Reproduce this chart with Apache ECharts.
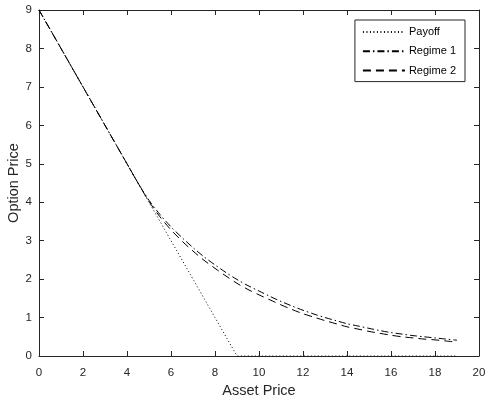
<!DOCTYPE html>
<html>
<head>
<meta charset="utf-8">
<script src="https://cdn.jsdelivr.net/npm/echarts@6/dist/echarts.min.js"></script>
<style>
  html, body { margin: 0; padding: 0; background: #fff; }
  #chart { width: 486px; height: 403px; }
</style>
</head>
<body>
<div id="chart"></div>
<script>
// Asset price grid
var assetPrice = [0, 0.5, 1, 1.5, 2, 2.5, 3, 3.5, 4, 4.5, 5, 5.5, 6, 6.5, 7, 7.5, 8, 8.5, 9, 9.5,
  10, 10.5, 11, 11.5, 12, 12.5, 13, 13.5, 14, 14.5, 15, 15.5, 16, 16.5, 17, 17.5, 18, 18.5, 19];

// Exercise payoff of the put (strike 9)
var payoff = [9, 8.5, 8, 7.5, 7, 6.5, 6, 5.5, 5, 4.5, 4, 3.5, 3, 2.5, 2, 1.5, 1, 0.5, 0, 0,
  0, 0, 0, 0, 0, 0, 0, 0, 0, 0, 0, 0, 0, 0, 0, 0, 0, 0, 0];

// Option value in regime 1
var regime1 = [9, 8.5, 8, 7.5, 7, 6.5, 6, 5.5, 5, 4.5, 4.05, 3.68, 3.36, 3.08, 2.82, 2.58, 2.37, 2.17, 1.99, 1.83,
  1.69, 1.55, 1.42, 1.30, 1.19, 1.09, 1.00, 0.92, 0.84, 0.78, 0.72, 0.66, 0.61, 0.57, 0.53, 0.50, 0.47, 0.44, 0.41];

// Option value in regime 2
var regime2 = [9, 8.5, 8, 7.5, 7, 6.5, 6, 5.5, 5, 4.5, 4.02, 3.62, 3.28, 2.99, 2.73, 2.49, 2.28, 2.08, 1.89, 1.73,
  1.59, 1.46, 1.33, 1.21, 1.10, 1.01, 0.92, 0.84, 0.76, 0.70, 0.64, 0.59, 0.54, 0.50, 0.47, 0.44, 0.42, 0.39, 0.36];

var xTicks = { min: 0, max: 20, interval: 2 };
var yTicks = { min: 0, max: 9, interval: 1 };

function pairs(xs, ys) {
  return xs.map(function (x, i) { return [x, ys[i]]; });
}

var ink = '#262626';
var font = 'Liberation Sans, Arial, Helvetica, sans-serif';

var chart = echarts.init(document.getElementById('chart'), null, { renderer: 'canvas' });

function axisCommon(extra) {
  var base = {
    type: 'value',
    splitLine: { show: false },
    axisLine: { show: true, onZero: false, lineStyle: { color: ink, width: 1 } },
    axisTick: { show: true, inside: true, length: 5, lineStyle: { color: ink, width: 1 } },
    axisLabel: { color: ink, fontSize: 11, fontFamily: font }
  };
  return Object.assign(base, extra);
}

chart.setOption({
  animation: false,
  backgroundColor: '#fff',
  grid: { left: 39, right: 7, top: 10, bottom: 47, containLabel: false, outerBoundsMode: 'none' },
  xAxis: [
    axisCommon({
      min: xTicks.min, max: xTicks.max, interval: xTicks.interval,
      position: 'bottom',
      name: 'Asset Price', nameLocation: 'middle', nameGap: 26,
      nameTextStyle: { color: ink, fontSize: 14.5, fontFamily: font },
      axisLabel: { color: ink, fontSize: 11.5, fontFamily: font, margin: 11 }
    }),
    axisCommon({
      min: xTicks.min, max: xTicks.max, interval: xTicks.interval,
      position: 'top',
      axisLabel: { show: false }
    })
  ],
  yAxis: [
    axisCommon({
      min: yTicks.min, max: yTicks.max, interval: yTicks.interval,
      position: 'left',
      name: 'Option Price', nameLocation: 'middle', nameGap: 18, nameMoveOverlap: false,
      nameTextStyle: { color: ink, fontSize: 14.5, fontFamily: font },
      axisLabel: { color: ink, fontSize: 11.5, fontFamily: font, margin: 7 }
    }),
    axisCommon({
      min: yTicks.min, max: yTicks.max, interval: yTicks.interval,
      position: 'right',
      axisLabel: { show: false }
    })
  ],
  legend: {
    right: 21, top: 20,
    orient: 'vertical',
    backgroundColor: '#fff',
    borderColor: ink, borderWidth: 1, borderRadius: 0,
    padding: [6.5, 9, 5.5, 7],
    itemWidth: 42, itemHeight: 10, itemGap: 8.3,
    itemStyle: { opacity: 0 },
    textStyle: { color: '#000', fontSize: 11, fontFamily: font, padding: [0, 0, 0, -1] },
    data: ['Payoff', 'Regime 1', 'Regime 2']
  },
  series: [
    {
      name: 'Payoff', type: 'line', xAxisIndex: 0, yAxisIndex: 0,
      data: pairs(assetPrice, payoff), symbol: 'none', showSymbol: false,
      lineStyle: { color: '#000', width: 1, type: [1, 2.5] },
      itemStyle: { color: '#000' }, z: 3
    },
    {
      name: 'Regime 1', type: 'line', xAxisIndex: 0, yAxisIndex: 0,
      data: pairs(assetPrice, regime1), symbol: 'none', showSymbol: false, smooth: 0.3,
      lineStyle: { color: '#000', width: 1, type: [7, 3, 1.5, 3] },
      itemStyle: { color: '#000' }, z: 4
    },
    {
      name: 'Regime 2', type: 'line', xAxisIndex: 0, yAxisIndex: 0,
      data: pairs(assetPrice, regime2), symbol: 'none', showSymbol: false, smooth: 0.3,
      lineStyle: { color: '#000', width: 1, type: [8, 5] },
      itemStyle: { color: '#000' }, z: 4
    }
  ]
});
</script>
</body>
</html>
